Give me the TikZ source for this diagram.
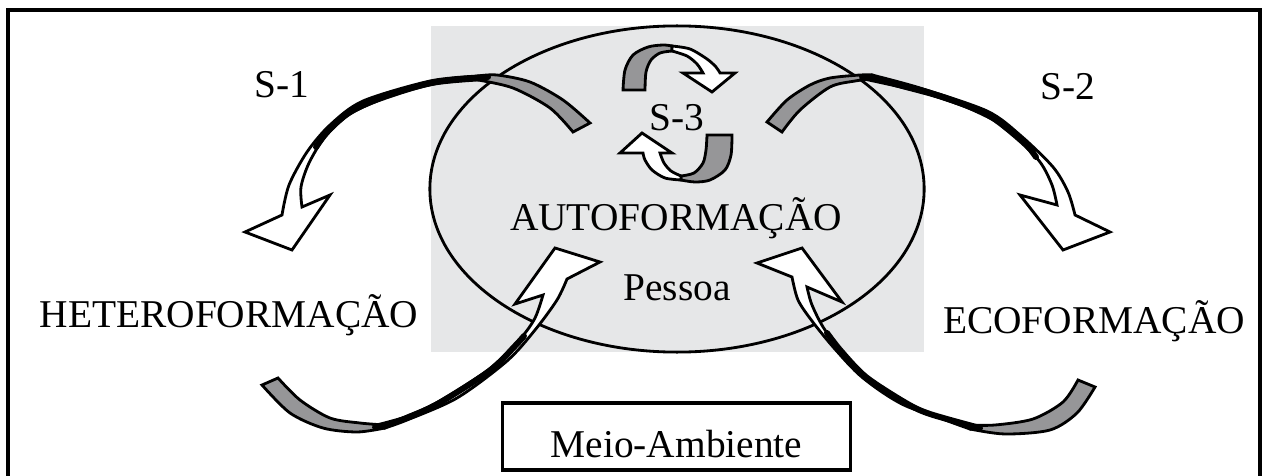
\documentclass[tikz,border=0pt]{standalone}
\usepackage{fontspec}
\setmainfont{Liberation Serif}
\usetikzlibrary{shapes.geometric}
\definecolor{pgray}{RGB}{230,231,232}
\definecolor{bandgray}{RGB}{150,150,152}
\tikzset{
  lbl/.style={font=\fontsize{11.2}{13}\selectfont, inner sep=0pt, anchor=base},
  backband/.style={fill=bandgray, draw=black, line width=0.8pt},
  frontband/.style={fill=white, draw=black, line width=0.8pt},
  edgeon/.style={draw=black, line width=1.7pt, line cap=round}
}
\begin{document}
\begin{tikzpicture}[x=0.01cm, y=-0.01cm]
\useasboundingbox (0,0) rectangle (1267,476);
\draw[line width=1pt] (8,476) -- (8,10) -- (1260,10) -- (1260,476);
\fill[pgray] (431,26) rectangle (924,352);
\node[draw, ellipse, line width=0.8pt, minimum width=4.94cm, minimum height=3.26cm, inner sep=0pt] (pessoaell) at (677,189) {};
% S-1
\filldraw[backband] plot[smooth] coordinates {(590,123) (563,100) (530,82) (497,75) (478,76)}
  -- plot[smooth] coordinates {(478,80) (513,88) (550,108) (573,132)} -- cycle;
\filldraw[frontband] plot[smooth] coordinates {(478,76) (430,81) (363,101) (330,125) (307,152) (289,185) (282,215)}
  -- (245,232) -- (292,250) -- (330,195) -- (302,207)
  -- plot[smooth] coordinates {(302,207) (301,187) (309,163) (325,137) (350,114) (390,96) (435,84) (478,80)} -- cycle;
\draw[edgeon] plot[smooth] coordinates {(488,77) (433,82.5) (380,98.5) (350,112) (328,131) (316,147)};
% S-2
\filldraw[backband] plot[smooth] coordinates {(767,122) (787,100) (810,85) (830,78) (860,75) (872,75)}
  -- plot[smooth] coordinates {(872,79) (855,81) (830,87) (800,110) (782,132)} -- cycle;
\filldraw[frontband] plot[smooth] coordinates {(872,75) (920,88) (987,111) (1020,135) (1053,167) (1068,192) (1075,215)}
  -- (1110,232) -- (1063,250) -- (1020,195) -- (1057,205)
  -- plot[smooth] coordinates {(1057,205) (1052,185) (1040,162) (1017,139) (985,115) (940,98) (900,87) (872,79)} -- cycle;
\draw[edgeon] plot[smooth] coordinates {(862,77) (920,90) (965,105) (1000,122) (1024,142) (1036,157)};
% heteroformacao -> autoformacao
\filldraw[backband] plot[smooth] coordinates {(262,385) (290,413) (323,428) (357,432) (385,428)}
  -- plot[smooth] coordinates {(385,425) (360,423) (330,418) (300,400) (278,378)} -- cycle;
\filldraw[frontband] plot[smooth] coordinates {(385,428) (407,420) (457,398) (507,361) (535,330) (557,300) (567,279)}
  -- (600,262) -- (555,248) -- (515,304) -- (543,295)
  -- plot[smooth] coordinates {(543,295) (535,318) (520,339) (488,370) (438,402) (407,416) (385,425)} -- cycle;
\draw[edgeon] plot[smooth] coordinates {(375,427) (407,418) (440,402.5) (490,370.5) (515,346) (524,336)};
% ecoformacao -> autoformacao
\filldraw[backband] plot[smooth] coordinates {(1095,387) (1077,413) (1050,430) (1005,434) (970,429)}
  -- plot[smooth] coordinates {(970,425) (995,425) (1033,419) (1063,402) (1078,380)} -- cycle;
\filldraw[frontband] plot[smooth] coordinates {(970,429) (933,415) (883,390) (850,360) (825,330) (812,305) (807,287)}
  -- (842,302) -- (802,248) -- (757,263) -- (792,277)
  -- plot[smooth] coordinates {(792,277) (798,300) (812,321) (834,348) (863,378) (906,406) (970,426)} -- cycle;
\draw[edgeon] plot[smooth] coordinates {(980,428) (930,414) (906,403) (866,377) (841,351) (827,333)};
% S-3
\filldraw[backband] plot[smooth] coordinates {(623,90) (625,70) (633,55) (648,47) (663,45) (672,46)}
  -- plot[smooth] coordinates {(672,51) (660,53) (651,60) (646,72) (645,90)} -- cycle;
\filldraw[frontband] plot[smooth] coordinates {(672,46) (690,49) (707,59) (716,67) (720,73)}
  -- (735,73) -- (712,92) -- (683,73) -- (703,73)
  -- plot[smooth] coordinates {(703,73) (697,64) (687,56) (672,51)} -- cycle;
\filldraw[backband] plot[smooth] coordinates {(732,135) (731,155) (725,170) (710,180) (695,182) (681,180)}
  -- plot[smooth] coordinates {(681,176) (694,173) (703,163) (706,150) (707,135)} -- cycle;
\filldraw[frontband] plot[smooth] coordinates {(681,180) (665,178) (652,170) (645,160) (643,153)}
  -- (620,153) -- (642,133) -- (672,153) -- (660,153)
  -- plot[smooth] coordinates {(660,153) (664,163) (671,171) (681,176)} -- cycle;
% texts
\node[lbl] (s1) at (282,98) {S-1};
\node[lbl] (s2) at (1068,100) {S-2};
\node[lbl] (s3) at (677,130) {S-3};
\node[lbl] (auto) at (676,230) {AUTOFORMAÇÃO};
\node[lbl] (pessoa) at (677,300) {Pessoa};
\node[lbl] (hetero) at (229,327) {HETEROFORMAÇÃO};
\node[lbl] (eco) at (1094,333) {ECOFORMAÇÃO};
\node[draw, line width=0.9pt, font=\fontsize{11.2}{13}\selectfont, inner sep=0pt, minimum width=3.47cm,
  text height=0.54cm, text depth=0.13cm, align=center] (meio) at (676.5,436.5) {Meio-Ambiente};
\end{tikzpicture}
\end{document}
